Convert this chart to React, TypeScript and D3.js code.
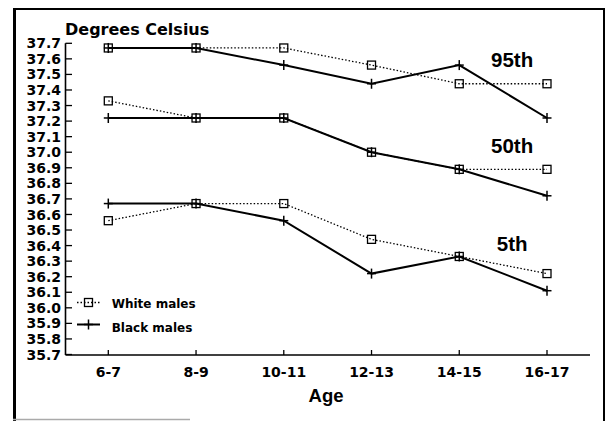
import React from 'react';
import * as d3 from 'd3';

// age groups on the x axis
const ages = ['6-7', '8-9', '10-11', '12-13', '14-15', '16-17'];

// percentiles, degrees Celsius
const white95 = [37.67, 37.67, 37.67, 37.56, 37.44, 37.44];
const black95 = [37.67, 37.67, 37.56, 37.44, 37.56, 37.22];
const white50 = [37.33, 37.22, 37.22, 37.0, 36.89, 36.89];
const black50 = [37.22, 37.22, 37.22, 37.0, 36.89, 36.72];
const white5 = [36.56, 36.67, 36.67, 36.44, 36.33, 36.22];
const black5 = [36.67, 36.67, 36.56, 36.22, 36.33, 36.11];

const yTicks = [
  35.7, 35.8, 35.9, 36.0, 36.1, 36.2, 36.3, 36.4, 36.5, 36.6, 36.7,
  36.8, 36.9, 37.0, 37.1, 37.2, 37.3, 37.4, 37.5, 37.6, 37.7,
];

const percentileLabels = ['95th', '50th', '5th'];

const W = 608;
const H = 421;
const BOLD = "'DejaVu Sans', sans-serif";
const ARIAL = "'Liberation Sans', Arial, sans-serif";

const App = () => {
  const x = d3.scalePoint<string>().domain(ages).range([108.3, 547]);
  const y = d3.scaleLinear().domain([35.7, 37.7]).range([354.5, 43.3]);
  const axisX = 65.5;
  const axisY = 355;

  const line = d3
    .line<number>()
    .x((d, i) => x(ages[i]) as number)
    .y((d) => y(d));

  const whites = [white95, white50, white5];
  const blacks = [black95, black50, black5];

  const square = (cx: number, cy: number, key: string) => (
    <rect key={key} x={cx - 4} y={cy - 4} width={8} height={8} fill="none" stroke="#000" strokeWidth={1.3} />
  );
  const plus = (cx: number, cy: number, key: string) => (
    <g key={key} stroke="#000" strokeWidth={1.5}>
      <line x1={cx - 4.5} x2={cx + 4.5} y1={cy} y2={cy} />
      <line x1={cx} x2={cx} y1={cy - 5} y2={cy + 5} />
    </g>
  );

  // label positions, relative to the last two age groups
  const labelX = ((x('14-15') as number) + (x('16-17') as number)) / 2 + 9;
  const labelY = [67, 152.7, 250.7];

  return (
    <div style={{ position: 'absolute', left: 0, top: 0 }}>
      <svg width={W} height={H} style={{ display: 'block', background: '#fff' }}>
        {/* frame */}
        <line x1={14.5} x2={14.5} y1={8} y2={H} stroke="#000" strokeWidth={3} />
        <line x1={13} x2={605} y1={9} y2={9} stroke="#000" strokeWidth={2} />
        <line x1={604} x2={604} y1={8} y2={H} stroke="#000" strokeWidth={2} />
        <line x1={13} x2={190} y1={419.5} y2={419.5} stroke="#aaa" strokeWidth={1.5} />

        <text x={65} y={35} fontFamily={BOLD} fontWeight="bold" fontSize={16}>
          Degrees Celsius
        </text>

        {/* y axis */}
        <line x1={axisX} x2={axisX} y1={y(37.7)} y2={axisY} stroke="#000" strokeWidth={1.6} />
        {yTicks.map((t) => (
          <g key={t}>
            <line x1={axisX} x2={axisX + 6.5} y1={y(t)} y2={y(t)} stroke="#000" strokeWidth={1.3} />
            <text x={61} y={y(t)} dy="0.36em" textAnchor="end" fontFamily={BOLD} fontWeight="bold" fontSize={14}>
              {t.toFixed(1)}
            </text>
          </g>
        ))}

        {/* x axis */}
        <line x1={axisX} x2={590} y1={axisY} y2={axisY} stroke="#000" strokeWidth={1.6} />
        {ages.map((a) => (
          <g key={a}>
            <line x1={x(a)} x2={x(a)} y1={axisY} y2={axisY - 5} stroke="#000" strokeWidth={1.3} />
            <text x={x(a)} y={376.5} textAnchor="middle" fontFamily={BOLD} fontWeight="bold" fontSize={14}>
              {a}
            </text>
          </g>
        ))}
        <text x={326} y={401.7} textAnchor="middle" fontFamily={ARIAL} fontWeight="bold" fontSize={18.5}>
          Age
        </text>

        {/* white males: dotted with squares */}
        {whites.map((s, k) => (
          <g key={'w' + k}>
            <path d={line(s) as string} fill="none" stroke="#000" strokeWidth={1.3} strokeDasharray="1.5 2" />
            {s.map((v, i) => square(x(ages[i]) as number, y(v), 'ws' + k + i))}
          </g>
        ))}

        {/* black males: solid with plus */}
        {blacks.map((s, k) => (
          <g key={'b' + k}>
            <path d={line(s) as string} fill="none" stroke="#000" strokeWidth={2} />
            {s.map((v, i) => plus(x(ages[i]) as number, y(v), 'bp' + k + i))}
          </g>
        ))}

        {percentileLabels.map((l, i) => (
          <text key={l} x={labelX} y={labelY[i]} textAnchor="middle" fontFamily={ARIAL} fontWeight="bold" fontSize={20.5}>
            {l}
          </text>
        ))}

        {/* legend */}
        <line x1={77} x2={100} y1={302.5} y2={302.5} stroke="#000" strokeWidth={1.3} strokeDasharray="1.5 2" />
        {square(88.5, 302.5, 'lg1')}
        <text x={111.7} y={308} fontFamily={BOLD} fontWeight="bold" fontSize={12}>
          White males
        </text>
        <line x1={77} x2={100} y1={324.5} y2={324.5} stroke="#000" strokeWidth={2} />
        {plus(88.5, 324.5, 'lg2')}
        <text x={111.7} y={331.5} fontFamily={BOLD} fontWeight="bold" fontSize={12}>
          Black males
        </text>
      </svg>
    </div>
  );
};

export default App;
